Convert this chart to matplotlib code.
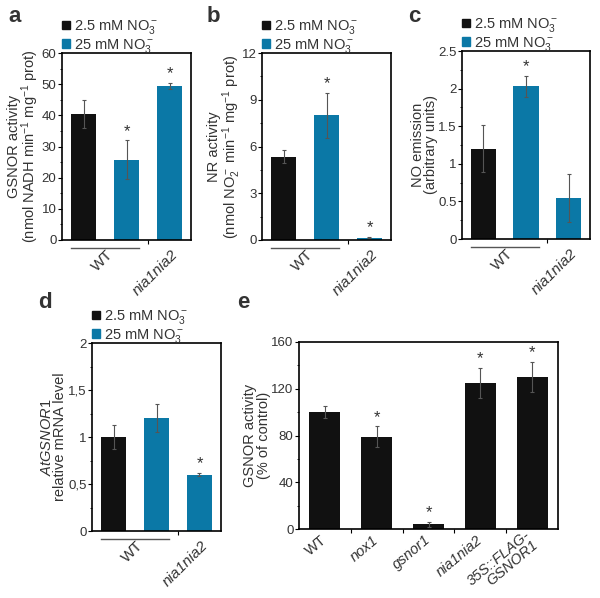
import matplotlib
matplotlib.use('Agg')
import matplotlib.pyplot as plt
import matplotlib.transforms as mtransforms
from matplotlib.patches import Patch

plt.rcParams['font.family'] = 'Liberation Sans'
plt.rcParams['mathtext.fontset'] = 'custom'
plt.rcParams['mathtext.rm'] = 'Liberation Sans'
plt.rcParams['mathtext.it'] = 'Liberation Sans:italic'

BLACK = '#111111'
BLUE = '#0b78a6'
TXT = '#333333'

# a - GSNOR activity (WT 2.5, WT 25, nia1nia2 25)
gsnor_vals = [40.5, 25.8, 49.5]
gsnor_err = [4.5, 6.2, 1.0]
gsnor_star = [False, True, True]
# b - NR activity
nr_vals = [5.35, 8.0, 0.15]
nr_err = [0.4, 1.45, 0.05]
nr_star = [False, True, True]
# c - NO emission
no_vals = [1.2, 2.03, 0.54]
no_err = [0.31, 0.14, 0.32]
no_star = [False, True, False]
# d - AtGSNOR1 mRNA
mrna_vals = [1.0, 1.2, 0.6]
mrna_err = [0.13, 0.15, 0.02]
mrna_star = [False, False, True]
mrna_ticks = [0, 0.5, 1, 1.5, 2]
mrna_ticklabels = ['0', '0,5', '1', '1,5', '2']
# e - GSNOR activity of lines
e_lines = ['WT', 'nox1', 'gsnor1', 'nia1nia2', '35S::FLAG-\nGSNOR1']
e_italic = [False, True, True, True, True]
e_vals = [100, 79, 4, 125, 130]
e_err = [5, 9, 2, 13, 13]
e_star = [False, True, True, True, True]

bar_colors = [BLACK, BLUE, BLUE]
legend_labels = ['2.5 mM NO$_3^-$', '25 mM NO$_3^-$']

W, H = 600, 598
fig = plt.figure(figsize=(6, 5.98), dpi=100)


def px_axes(l, t, r, b):
    return fig.add_axes([l / W, 1 - b / H, (r - l) / W, (b - t) / H])


def style(ax, ylim, yticks, minor):
    ax.set_ylim(*ylim)
    ax.set_yticks(yticks)
    ax.set_yticks(minor, minor=True)
    for s in ax.spines.values():
        s.set_linewidth(1.2)
    ax.tick_params(axis='y', which='major', length=3, width=0.8,
                   labelsize=9.5, labelcolor=TXT, pad=1)
    ax.tick_params(axis='y', which='minor', length=1.5, width=0.6)
    ax.tick_params(axis='x', which='major', length=0, labelsize=11,
                   labelcolor=TXT, pad=9)
    ax.tick_params(axis='x', which='minor', length=3, width=0.8)


def rot_labels(ax, labels, italic, rot, dx=6):
    ax.set_xticklabels(labels, rotation=rot, ha='right', va='center',
                       rotation_mode='anchor', multialignment='right',
                       linespacing=0.95)
    off = mtransforms.ScaledTranslation(dx / 100, 0, fig.dpi_scale_trans)
    for lab, it in zip(ax.get_xticklabels(), italic):
        if it:
            lab.set_style('italic')
        lab.set_transform(lab.get_transform() + off)


def bars(ax, vals, errs, stars, colors, width=0.6):
    x = list(range(len(vals)))
    ax.bar(x, vals, width=width, color=colors, zorder=2)
    ax.errorbar(x, vals, yerr=errs, fmt='none', ecolor='#555555',
                elinewidth=0.8, capsize=1.5, capthick=0.8, zorder=3)
    for xi, v, e, s in zip(x, vals, errs, stars):
        if s:
            ax.annotate('*', (xi, v + e), xytext=(0, 1),
                        textcoords='offset points', ha='center', va='bottom',
                        fontsize=12, color=TXT)
    ax.set_xlim(-0.5, len(vals) - 0.5)
    ax.set_xticks([i + 0.5 for i in range(len(vals) - 1)], minor=True)


def nitrate_panel(ax, vals, errs, stars, ylim, yticks, minor):
    bars(ax, vals, errs, stars, bar_colors)
    style(ax, ylim, yticks, minor)
    ax.set_xticks([0.5, 2])
    rot_labels(ax, ['WT', 'nia1nia2'], [False, True], 45)
    tr = mtransforms.blended_transform_factory(ax.transData, ax.transAxes)
    ax.plot([-0.3, 1.3], [-0.045, -0.045], color='#555555', lw=1,
            transform=tr, clip_on=False)
    handles = [Patch(color=c) for c in (BLACK, BLUE)]
    ax.legend(handles, legend_labels, loc='lower left',
              bbox_to_anchor=(0.0, 0.99), frameon=False, fontsize=10.5,
              handlelength=0.55, handleheight=0.55, handletextpad=0.3,
              labelspacing=0.05, borderaxespad=0, borderpad=0,
              labelcolor=TXT)


def ylab(ax, text, xpos):
    ax.set_ylabel(text, fontsize=10.5, color=TXT, linespacing=0.95)
    ax.yaxis.set_label_coords(xpos, 0.5)


# panel a
ax_a = px_axes(62, 53, 191, 240)
nitrate_panel(ax_a, gsnor_vals, gsnor_err, gsnor_star, (0, 60),
              range(0, 61, 10), range(5, 60, 10))
ylab(ax_a, 'GSNOR activity\n(nmol NADH min$^{-1}$ mg$^{-1}$ prot)', -0.16)

# panel b
ax_b = px_axes(262, 53, 391, 240)
nitrate_panel(ax_b, nr_vals, nr_err, nr_star, (0, 12),
              range(0, 13, 3), [1.5, 4.5, 7.5, 10.5])
ylab(ax_b, 'NR activity\n(nmol NO$_2^-$ min$^{-1}$ mg$^{-1}$ prot)', -0.15)

# panel c
ax_c = px_axes(462, 51, 590, 239)
nitrate_panel(ax_c, no_vals, no_err, no_star, (0, 2.5),
              [0, 0.5, 1, 1.5, 2, 2.5], [0.25, 0.75, 1.25, 1.75, 2.25])
ax_c.set_yticklabels(['0', '0.5', '1', '1.5', '2', '2.5'])
ylab(ax_c, 'NO emission\n(arbitrary units)', -0.185)

# panel d
ax_d = px_axes(92, 343, 221, 531)
nitrate_panel(ax_d, mrna_vals, mrna_err, mrna_star, (0, 2),
              mrna_ticks, [0.25, 0.75, 1.25, 1.75])
ax_d.set_yticklabels(mrna_ticklabels)
ylab(ax_d, '$\\mathit{AtGSNOR1}$\nrelative mRNA level', -0.19)

# panel e
ax_e = px_axes(299, 342, 558, 529)
bars(ax_e, e_vals, e_err, e_star, [BLACK] * len(e_vals))
style(ax_e, (0, 160), range(0, 161, 40), range(20, 160, 40))
ax_e.set_xticks(range(len(e_lines)))
rot_labels(ax_e, e_lines, e_italic, 40, dx=9)
ax_e.tick_params(axis='x', which='major', labelsize=10.5, pad=6.5)
ylab(ax_e, 'GSNOR activity\n(% of control)', -0.11)

# panel letters
for letter, x, y in [('a', 8, 16), ('b', 207, 16), ('c', 408, 16),
                     ('d', 38, 303), ('e', 237, 303)]:
    fig.text(x / W, 1 - y / H, letter, fontsize=16, fontweight='bold',
             color=TXT, va='center', ha='left')

fig.savefig('out.png', dpi=100)
